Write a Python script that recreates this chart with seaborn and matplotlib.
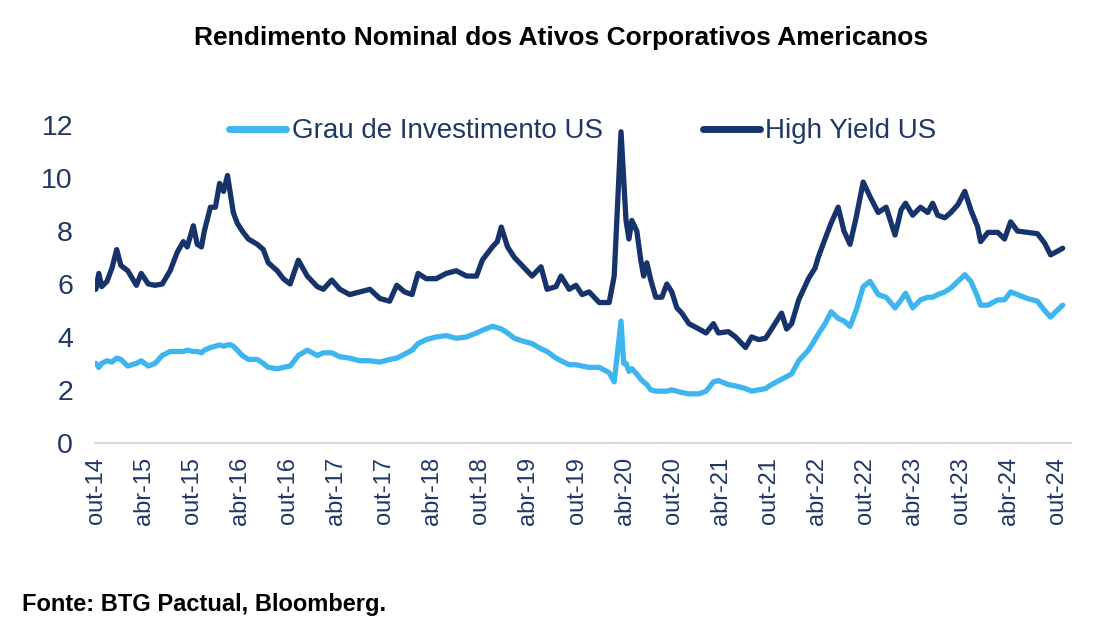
import matplotlib
matplotlib.use("Agg")
import matplotlib.pyplot as plt
import pandas as pd
import seaborn as sns

# ---------------- data ----------------
dates = [
    "2014-10-01", "2014-10-12", "2014-10-23", "2014-11-12", "2014-12-01", "2014-12-19",
    "2015-01-04", "2015-01-30", "2015-03-04", "2015-03-22", "2015-04-18", "2015-05-14",
    "2015-06-10", "2015-07-10", "2015-08-06", "2015-08-29", "2015-09-13", "2015-10-06",
    "2015-10-21", "2015-11-06", "2015-11-17", "2015-12-10", "2015-12-29", "2016-01-14",
    "2016-01-29", "2016-02-13", "2016-02-24", "2016-03-06", "2016-03-21", "2016-04-09",
    "2016-05-02", "2016-06-05", "2016-06-28", "2016-07-17", "2016-08-20", "2016-09-12",
    "2016-10-08", "2016-11-08", "2016-12-12", "2017-01-19", "2017-02-11", "2017-03-15",
    "2017-04-15", "2017-05-22", "2017-06-29", "2017-08-07", "2017-09-14", "2017-10-21",
    "2017-11-17", "2017-12-17", "2018-01-14", "2018-02-06", "2018-03-09", "2018-04-16",
    "2018-05-24", "2018-07-01", "2018-08-09", "2018-09-16", "2018-10-08", "2018-11-15",
    "2018-12-04", "2018-12-19", "2019-01-12", "2019-02-07", "2019-03-08", "2019-04-15",
    "2019-05-19", "2019-06-11", "2019-07-15", "2019-08-03", "2019-09-03", "2019-09-29",
    "2019-10-22", "2019-11-18", "2019-12-26", "2020-02-02", "2020-02-21", "2020-03-18",
    "2020-03-28", "2020-04-06", "2020-04-17", "2020-04-28", "2020-05-17", "2020-06-01",
    "2020-06-12", "2020-06-24", "2020-07-09", "2020-07-28", "2020-08-20", "2020-09-08",
    "2020-09-27", "2020-10-16", "2020-11-04", "2020-12-01", "2021-01-08", "2021-02-04",
    "2021-03-04", "2021-03-23", "2021-04-30", "2021-05-27", "2021-07-04", "2021-07-27",
    "2021-08-23", "2021-09-18", "2021-10-11", "2021-11-18", "2021-12-07", "2021-12-26",
    "2022-01-22", "2022-02-28", "2022-03-25", "2022-04-06", "2022-05-02", "2022-05-25",
    "2022-06-21", "2022-07-13", "2022-08-05", "2022-08-28", "2022-09-24", "2022-10-20",
    "2022-11-20", "2022-12-20", "2023-01-23", "2023-02-15", "2023-03-04", "2023-03-31",
    "2023-04-30", "2023-05-27", "2023-06-15", "2023-07-04", "2023-07-31", "2023-08-23",
    "2023-09-19", "2023-10-15", "2023-11-07", "2023-12-03", "2023-12-14", "2024-01-11",
    "2024-02-17", "2024-03-14", "2024-04-06", "2024-05-02", "2024-06-10", "2024-07-17",
    "2024-08-13", "2024-09-05", "2024-09-24", "2024-10-21",
]

grau_investimento = [
    3.0, 2.85, 3.0, 3.1, 3.05, 3.2,
    3.15, 2.9, 3.0, 3.1, 2.9, 3.0,
    3.3, 3.45, 3.45, 3.45, 3.5, 3.45,
    3.45, 3.4, 3.5, 3.6, 3.65, 3.7,
    3.65, 3.7, 3.7, 3.65, 3.5, 3.3,
    3.15, 3.15, 3.0, 2.85, 2.8, 2.85,
    2.9, 3.3, 3.5, 3.3, 3.4, 3.4,
    3.25, 3.2, 3.1, 3.1, 3.05, 3.15,
    3.2, 3.35, 3.5, 3.75, 3.9, 4.0,
    4.05, 3.95, 4.0, 4.15, 4.25, 4.4,
    4.35, 4.3, 4.15, 3.95, 3.85, 3.75,
    3.55, 3.45, 3.2, 3.1, 2.95, 2.95,
    2.9, 2.85, 2.85, 2.65, 2.3, 4.6,
    3.0, 3.0, 2.7, 2.8, 2.6, 2.4,
    2.3, 2.2, 2.0, 1.95, 1.95, 1.95,
    2.0, 1.95, 1.9, 1.85, 1.85, 1.95,
    2.3, 2.35, 2.2, 2.15, 2.05, 1.95,
    2.0, 2.05, 2.2, 2.4, 2.5, 2.6,
    3.1, 3.5, 3.9, 4.1, 4.5, 4.95,
    4.7, 4.6, 4.4, 5.0, 5.9, 6.1,
    5.6, 5.5, 5.1, 5.4, 5.65, 5.1,
    5.4, 5.5, 5.5, 5.6, 5.7, 5.85,
    6.1, 6.35, 6.1, 5.5, 5.2, 5.2,
    5.4, 5.4, 5.7, 5.6, 5.45, 5.35,
    5.0, 4.75, 4.95, 5.2,
]

high_yield = [
    5.8, 6.4, 5.9, 6.1, 6.6, 7.3,
    6.7, 6.5, 5.95, 6.4, 6.0, 5.95,
    6.0, 6.5, 7.2, 7.6, 7.4, 8.2,
    7.5, 7.4, 8.0, 8.9, 8.9, 9.8,
    9.5, 10.1, 9.4, 8.7, 8.3, 8.0,
    7.7, 7.5, 7.3, 6.8, 6.5, 6.2,
    6.0, 6.9, 6.3, 5.9, 5.8, 6.15,
    5.8, 5.6, 5.7, 5.8, 5.45, 5.35,
    5.95, 5.7, 5.6, 6.4, 6.2, 6.2,
    6.4, 6.5, 6.3, 6.3, 6.9, 7.4,
    7.6, 8.15, 7.4, 7.0, 6.7, 6.3,
    6.65, 5.8, 5.9, 6.3, 5.8, 5.95,
    5.6, 5.7, 5.3, 5.3, 6.3, 11.75,
    10.0, 8.4, 7.7, 8.4, 8.0, 6.9,
    6.3, 6.8, 6.15, 5.5, 5.5, 6.0,
    5.7, 5.1, 4.9, 4.5, 4.3, 4.15,
    4.5, 4.15, 4.2, 4.0, 3.6, 4.0,
    3.9, 3.95, 4.3, 4.9, 4.3, 4.5,
    5.4, 6.2, 6.6, 7.0, 7.7, 8.3,
    8.9, 8.0, 7.5, 8.5, 9.85, 9.3,
    8.7, 8.9, 7.85, 8.8, 9.05, 8.6,
    8.9, 8.7, 9.05, 8.6, 8.5, 8.7,
    9.0, 9.5, 8.8, 8.15, 7.6, 7.95,
    7.95, 7.7, 8.35, 8.0, 7.95, 7.9,
    7.55, 7.1, 7.2, 7.35,
]

series_names = ["Grau de Investimento US", "High Yield US"]
tick_labels = ["out-14", "abr-15", "out-15", "abr-16", "out-16", "abr-17", "out-17",
               "abr-18", "out-18", "abr-19", "out-19", "abr-20", "out-20", "abr-21",
               "out-21", "abr-22", "out-22", "abr-23", "out-23", "abr-24", "out-24"]
tick_dates = ["2014-10-01", "2015-04-01", "2015-10-01", "2016-04-01", "2016-10-01",
              "2017-04-01", "2017-10-01", "2018-04-01", "2018-10-01", "2019-04-01",
              "2019-10-01", "2020-04-01", "2020-10-01", "2021-04-01", "2021-10-01",
              "2022-04-01", "2022-10-01", "2023-04-01", "2023-10-01", "2024-04-01",
              "2024-10-01"]
y_ticks = [0, 2, 4, 6, 8, 10, 12]

title = "Rendimento Nominal dos Ativos Corporativos Americanos"
source = "Fonte: BTG Pactual, Bloomberg."

# ---------------- build frame ----------------
d = pd.to_datetime(dates)
df = pd.concat([
    pd.DataFrame({"data": d, "valor": grau_investimento, "serie": series_names[0]}),
    pd.DataFrame({"data": d, "valor": high_yield, "serie": series_names[1]}),
])

# ---------------- style ----------------
sns.set_theme(style="white")
plt.rcParams["font.family"] = ["Liberation Sans", "DejaVu Sans"]

navy_text = "#1F3864"
c_ig = "#3DB5EE"
c_hy = "#17336B"

fig = plt.figure(figsize=(11.06, 6.29), dpi=100)
ax = fig.add_axes([0.086, 0.296, 0.882, 0.505])

sns.lineplot(data=df, x="data", y="valor", hue="serie",
             palette={series_names[0]: c_ig, series_names[1]: c_hy},
             linewidth=3.8, ax=ax, legend=True)
for ln in ax.get_lines():
    ln.set_solid_joinstyle("round")
    ln.set_solid_capstyle("round")

ax.set_ylim(0, 12)
ax.set_xlim(pd.Timestamp("2014-09-28"), pd.Timestamp("2024-11-20"))
ax.set_yticks(y_ticks)
ax.set_yticklabels([str(v) for v in y_ticks], fontsize=20.5, color=navy_text)
ax.set_xticks(pd.to_datetime(tick_dates))
ax.set_xticklabels(tick_labels, rotation=90, fontsize=17, color=navy_text)
ax.set_xlabel("")
ax.set_ylabel("")

for s in ["top", "right", "left"]:
    ax.spines[s].set_visible(False)
ax.spines["bottom"].set_color("#D5D8E8")
ax.spines["bottom"].set_linewidth(1.5)
ax.tick_params(axis="x", which="major", length=7, width=1.5, color="#D5D8E8",
               direction="out", pad=3)
ax.tick_params(axis="y", length=0, pad=16)
ax.grid(False)

leg = ax.legend(loc="upper center", bbox_to_anchor=(0.50, 1.10), ncol=2,
                frameon=False, fontsize=20, handlelength=2.05, handletextpad=0.2,
                columnspacing=3.6, labelcolor=navy_text)
for h in leg.get_lines():
    h.set_linewidth(5)

fig.text(0.507, 0.94, title, ha="center", va="center", fontsize=19,
         fontweight="bold", color="black")
fig.text(0.02, 0.039, source, ha="left", va="center", fontsize=17,
         fontweight="bold", color="black")

fig.savefig("out.png", dpi=100)
